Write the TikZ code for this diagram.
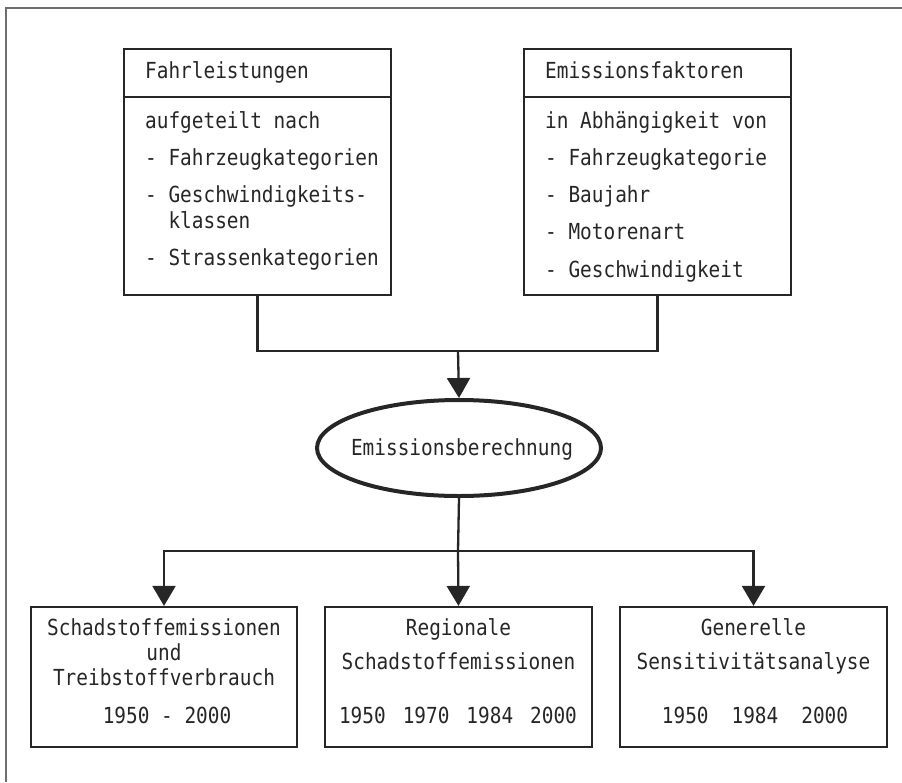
\documentclass[tikz,border=0pt]{standalone}
\usepackage{fontspec}
\setmonofont{DejaVu Sans Mono}
\usepackage{tikz}
\usetikzlibrary{arrows.meta,positioning,shapes.geometric}
\definecolor{scanInk}{RGB}{38,38,38}
\definecolor{scanFrame}{RGB}{110,110,110}

\tikzset{
  txt/.style={inner sep=0pt, yscale=1.14, text=scanInk, font=\ttfamily\fontsize{19.4}{24}\selectfont},
  box/.style={draw=scanInk, line width=2.2pt, minimum width=267pt, inner sep=0pt},
  conn/.style={draw=scanInk, line width=2.3pt},
  arr/.style={conn, -{Triangle[width=23pt,length=20pt]}}
}

\begin{document}
\begin{tikzpicture}[x=1pt,y=-1pt]
\useasboundingbox (0,0) rectangle (902,782);
% frame of the scan
\draw[scanFrame, line width=1.2pt] (6,782) -- (6,8) -- (902,8);

% input boxes
\node[box, minimum height=246pt] (fahr) at (257.5,172) {};
\node[box, minimum height=246pt] (fakt) at (657.5,172) {};
\draw[scanInk, line width=1.1pt] (fahr.west |- 0,97) -- (fahr.east |- 0,97);
\draw[scanInk, line width=1.1pt] (fakt.west |- 0,97) -- (fakt.east |- 0,97);

\node[txt, anchor=base west] (fahrT) at (145,78) {Fahrleistungen};
\node[txt, anchor=base west] (fahr1) at (145,128) {aufgeteilt nach};
\node[txt, anchor=base west] (fahr2) at (145,165) {- Fahrzeugkategorien};
\node[txt, anchor=base west] (fahr3) at (145,202) {- Geschwindigkeits-};
\node[txt, anchor=base west] (fahr4) at (145,228) {\phantom{- }klassen};
\node[txt, anchor=base west] (fahr5) at (145,265) {- Strassenkategorien};

\node[txt, anchor=base west] (faktT) at (545,78) {Emissionsfaktoren};
\foreach \t/\y [count=\i] in {in Abhängigkeit von/128, - Fahrzeugkategorie/165,
    - Baujahr/202, - Motorenart/239, - Geschwindigkeit/277}
  \node[txt, anchor=base west] (fakt\i) at (545,\y) {\t};

% calculation
\node[ellipse, draw=scanInk, line width=4pt, minimum width=284pt, minimum height=96pt,
  inner sep=0pt] (calc) at (459,448) {};
\node[txt, anchor=base] (calcT) at (462,455) {Emissionsberechnung};

% result boxes
\node[box, minimum height=140pt, minimum width=266pt] (resA) at (164,677) {};
\node[box, minimum height=140pt] (resB) at (458.5,677) {};
\node[box, minimum height=140pt] (resC) at (753.5,677) {};

\node[txt, anchor=base] (resA1) at (164,635) {Schadstoffemissionen};
\node[txt, anchor=base] (resA2) at (164,660) {und};
\node[txt, anchor=base] (resA3) at (164,685) {Treibstoffverbrauch};
\node[txt, anchor=base] (resA4) at (167,723) {1950 - 2000};

\node[txt, anchor=base] (resB1) at (458.5,635) {Regionale};
\node[txt, anchor=base] (resB2) at (458.5,669) {Schadstoffemissionen};
\node[txt, anchor=base] (resB3) at (458,723) {1950\hspace{17pt}1970\hspace{17pt}1984\hspace{17pt}2000};

\node[txt, anchor=base] (resC1) at (753.5,635) {Generelle};
\node[txt, anchor=base] (resC2) at (753.5,669) {Sensitivitätsanalyse};
\node[txt, anchor=base] (resC3) at (755,723) {1950\hspace{23pt}1984\hspace{23pt}2000};

% connectors
\coordinate (join) at (458,351);
\coordinate (split) at (458,551);
\draw[conn] (fahr.south) |- (join) -| (fakt.south);
\draw[arr] (join) -- (calc.north);
\draw[conn] (calc.south) -- (split);
\draw[arr] (split) -| (resA.north);
\draw[arr] (split) -| (resC.north);
\draw[arr] (split) -- (resB.north);
\end{tikzpicture}
\end{document}
